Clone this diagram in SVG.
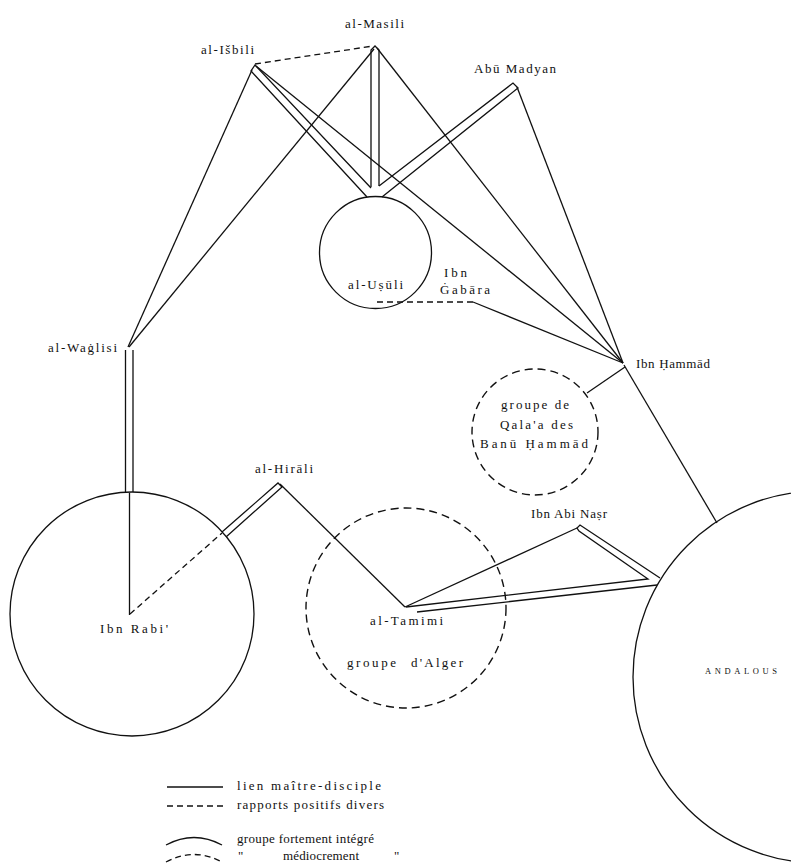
<svg xmlns="http://www.w3.org/2000/svg" width="791" height="868" viewBox="0 0 791 868">
<style>
.s{fill:none;stroke:#111;stroke-width:1.3;stroke-linejoin:miter}
.d{fill:none;stroke:#111;stroke-width:1.3;stroke-dasharray:6 4}
.c{fill:none;stroke:#111;stroke-width:1.3}
.dc{fill:none;stroke:#111;stroke-width:1.4;stroke-dasharray:8 5}
text{font-family:"Liberation Serif","Times New Roman",serif;font-size:13px;fill:#111}
.sm{font-size:8.5px}
</style>
<rect width="791" height="868" fill="#fff"/>
<g id="connectors">
<path class="s" d="M252,70 L128,347"/>
<path class="s" d="M374,49 L129,347"/>
<path class="s" d="M377,48 L623,363"/>
<path class="s" d="M256,66 L623,363"/>
<path class="s" d="M517,87 L623,363"/>
<path class="s" d="M473,302 L623,363"/>
<path class="s" d="M625,367 L587,393"/>
<path class="s" d="M624,365 L717,523"/>
<path class="s" d="M129.5,615 L129.5,493"/>
<path class="s" d="M280,484 L405,607"/>
<path class="s" d="M405,607 L577,528"/>
<path class="s" d="M371,187 L371,50 L375,46 L379,50 L379,186"/>
<path class="s" d="M367,197 L251,71 L255,65 L371,188"/>
<path class="s" d="M379,186 L513,83 L518,88 L382,197"/>
<path class="s" d="M125.5,492 L125.5,350 M133,350 L133,492"/>
<path class="s" d="M222,532 L278,483 L282,487 L226,537"/>
<path class="s" d="M417,612 L657,585"/>
<path class="s" d="M406,607 L648,579 L579,531 L577,528 L580,525 L660,578"/>
<path class="d" d="M255,64 L373,46"/>
<path class="d" d="M377,302 L473,302"/>
<path class="d" d="M130,614 L222,533"/>
</g>
<g id="n-masili"><text x="345" y="28" textLength="59" lengthAdjust="spacing">al-Masili</text></g>
<g id="n-isbili"><text x="201" y="54" textLength="53" lengthAdjust="spacing">al-Išbili</text></g>
<g id="n-abumadyan"><text x="474" y="73" textLength="82" lengthAdjust="spacing">Abū  Madyan</text></g>
<g id="n-usuli"><circle class="c" cx="375.5" cy="252.5" r="56"/><text x="348" y="289" textLength="55" lengthAdjust="spacing">al-Uṣūli</text></g>
<g id="n-gabara"><text x="444" y="277" textLength="23" lengthAdjust="spacing">Ibn</text><text x="440" y="294" textLength="50" lengthAdjust="spacing">Ġabāra</text></g>
<g id="n-hammad"><text x="636" y="368" textLength="74" lengthAdjust="spacing">Ibn  Ḥammād</text></g>
<g id="n-qalaa"><circle class="dc" cx="535" cy="432" r="63"/>
<text x="501" y="409" textLength="68" lengthAdjust="spacing">groupe de</text>
<text x="500" y="429" textLength="73" lengthAdjust="spacing">Qala'a des</text>
<text x="480" y="448" textLength="108" lengthAdjust="spacing">Banū Ḥammād</text></g>
<g id="n-waglisi"><text x="48" y="352" textLength="69" lengthAdjust="spacing">al-Waġlisi</text></g>
<g id="n-rabi"><circle class="c" cx="132" cy="614" r="122"/><text x="100" y="633" textLength="68" lengthAdjust="spacing">Ibn  Rabi'</text></g>
<g id="n-hirali"><text x="255" y="473" textLength="58" lengthAdjust="spacing">al-Hirāli</text></g>
<g id="n-alger"><circle class="dc" cx="406" cy="608" r="100"/>
<text x="347" y="667" textLength="49" lengthAdjust="spacing">groupe</text><text x="411" y="667" textLength="52" lengthAdjust="spacing">d'Alger</text></g>
<g id="n-tamimi"><text x="370" y="625" textLength="73" lengthAdjust="spacing">al-Tamimi</text></g>
<g id="n-abinasr"><text x="531" y="518" textLength="76" lengthAdjust="spacing">Ibn  Abi  Naṣr</text></g>
<g id="n-andalous"><circle class="c" cx="819" cy="677" r="186"/><text class="sm" x="705" y="674" textLength="72" lengthAdjust="spacing">ANDALOUS</text></g>
<g id="legend">
<path class="s" d="M167,787 L223,787"/>
<text x="237" y="790" textLength="144" lengthAdjust="spacing">lien maître-disciple</text>
<path class="d" d="M167,806 L223,806"/>
<text x="237" y="809" textLength="147" lengthAdjust="spacing">rapports positifs divers</text>
<path class="s" d="M166,845 Q194,830 222,845"/>
<text x="237" y="843" textLength="137" lengthAdjust="spacing">groupe fortement intégré</text>
<path class="d" d="M166,862 Q194,847 222,862"/>
<text x="238" y="860">"</text>
<text x="283" y="860" textLength="76" lengthAdjust="spacing">médiocrement</text>
<text x="394" y="860">"</text>
</g>
</svg>
